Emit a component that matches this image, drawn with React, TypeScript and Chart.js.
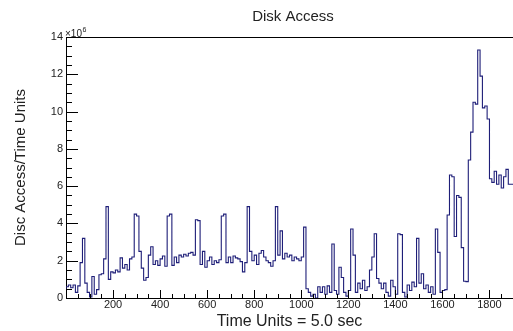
import React, { useEffect, useRef } from 'react';
import { Chart, registerables } from 'chart.js';

Chart.register(...registerables);

const chartTitle = 'Disk Access';
const xAxisTitle = 'Time Units = 5.0 sec';
const yAxisTitle = 'Disc Access/Time Units';
const yExponentBase = '\u00d710';
const yExponent = '6';

const binWidth = 10; // time units per histogram bin
const xMin = 0;
const xMax = 1900;
const yMin = 0;
const yMax = 14;

const xTickLabels = [200, 400, 600, 800, 1000, 1200, 1400, 1600, 1800];
const xMajorStep = 200;
const xMinorStep = 50;
const yTickLabels = [0, 2, 4, 6, 8, 10, 12, 14];
const yMajorStep = 2;
const yMinorStep = 0.5;

// Disk accesses per time unit, in units of 10^6, one value per bin
const diskAccess = [
  0.25, 0.6, 0.7, 0.55, 0.7, 0.3, 0.65, 1.9, 3.2, 0.8,
  0.3, 0.05, 1.15, 0.2, 0.45, 1.25, 1.3, 2.1, 4.9, 1.0,
  1.4, 1.35, 1.5, 1.4, 2.15, 1.6, 1.8, 1.5, 2.1, 2.2,
  4.5, 4.4, 2.5, 1.6, 0.95, 1.1, 2.3, 2.75, 1.8, 2.0,
  1.75, 2.1, 2.25, 1.7, 4.4, 4.5, 1.75, 2.2, 1.9, 2.3,
  2.2, 2.35, 2.25, 2.4, 2.45, 2.3, 4.2, 4.15, 1.8, 2.5,
  1.65, 2.0, 2.2, 1.8, 2.0, 1.9, 2.05, 4.4, 4.5, 1.9,
  2.2, 1.9, 2.25, 2.15, 2.1, 1.95, 1.4, 1.9, 4.9, 2.5,
  2.0, 2.3, 1.8, 2.4, 2.55, 2.2, 2.0, 1.9, 1.7, 2.0,
  4.9, 2.3, 3.6, 2.1, 2.4, 2.2, 2.3, 2.0, 2.2, 2.1,
  2.0, 2.2, 3.8, 0.5, 0.3, 0.1, 0.2, 0.0, 0.6, 0.3,
  0.6, 0.2, 0.65, 0.3, 2.9, 0.4, 0.2, 1.65, 1.1, 0.3,
  0.1, 0.4, 3.7, 2.3, 0.3, 0.8, 0.5, 0.95, 0.4, 0.6,
  1.5, 2.2, 3.45, 1.05, 0.8, 0.5, 0.8, 0.3, 0.1, 0.95,
  0.6, 0.2, 3.45, 3.4, 0.3, 0.05, 0.7, 0.4, 0.85, 0.6,
  3.2, 0.8, 1.3, 0.5, 0.7, 0.3, 0.6, 0.2, 3.7, 2.45,
  0.3, 0.4, 0.45, 4.45, 6.6, 6.5, 3.3, 5.5, 5.4, 2.7,
  0.9, 0.88, 7.4, 8.9, 10.5, 10.4, 13.3, 11.9, 10.2, 10.3,
  9.6, 6.4, 6.2, 6.8, 6.1, 6.6, 5.9, 6.5, 6.9, 6.1,
];

const FONT = "'Liberation Sans', Arial, Helvetica, sans-serif";
const TEXT = '#222222';
const LINE = '#1e1e78';

const framePlugin = {
  id: 'rootFrame',
  afterDatasetsDraw(chart: any) {
    const { ctx, chartArea, scales } = chart;
    const { left, right, top, bottom } = chartArea;
    const x = scales.x;
    const y = scales.y;
    ctx.save();
    ctx.strokeStyle = '#000';
    ctx.lineWidth = 1;
    ctx.beginPath();
    ctx.moveTo(left, Math.round(top) + 0.5);
    ctx.lineTo(right, Math.round(top) + 0.5);
    for (let v = xMin; v <= xMax; v += xMinorStep) {
      const px = Math.round(x.getPixelForValue(v)) + 0.5;
      const len = v % xMajorStep === 0 ? 8 : 4;
      ctx.moveTo(px, bottom);
      ctx.lineTo(px, bottom - len);
    }
    for (let v = yMin; v <= yMax + 1e-9; v += yMinorStep) {
      const py = Math.round(y.getPixelForValue(v)) + 0.5;
      const len = Math.abs(v % yMajorStep) < 1e-9 ? 12 : 6;
      ctx.moveTo(left, py);
      ctx.lineTo(left + len, py);
    }
    ctx.stroke();

    ctx.fillStyle = TEXT;
    ctx.textAlign = 'center';
    ctx.textBaseline = 'alphabetic';
    ctx.font = `15px ${FONT}`;
    ctx.fillText(chartTitle, 293, 21);

    ctx.textAlign = 'left';
    ctx.font = `10px ${FONT}`;
    ctx.fillText(yExponentBase, left - 1, top - 0.5);
    const w = ctx.measureText(yExponentBase).width;
    ctx.font = `7px ${FONT}`;
    ctx.fillText(yExponent, left - 1 + w + 0.5, top - 5);
    ctx.restore();
  },
};

export default function App() {
  const canvasRef = useRef<HTMLCanvasElement | null>(null);

  useEffect(() => {
    const canvas = canvasRef.current;
    if (!canvas) return;
    const points = diskAccess.map((v, i) => ({ x: xMin + i * binWidth, y: v }));
    points.push({ x: xMin + diskAccess.length * binWidth, y: diskAccess[diskAccess.length - 1] });

    const chart = new Chart(canvas, {
      type: 'line',
      data: {
        datasets: [
          {
            label: chartTitle,
            data: points,
            stepped: 'after',
            borderColor: LINE,
            borderWidth: 1.1,
            pointRadius: 0,
            fill: false,
            tension: 0,
          },
        ],
      },
      options: {
        responsive: false,
        animation: false,
        devicePixelRatio: 1,
        layout: { padding: { top: 37, left: 0, right: 0, bottom: 0 } },
        plugins: {
          legend: { display: false },
          tooltip: { enabled: false },
          title: { display: false },
        },
        scales: {
          x: {
            type: 'linear',
            min: xMin,
            max: xMax,
            grid: { display: false, drawTicks: false },
            border: { display: true, color: '#000', width: 1 },
            afterBuildTicks: (scale: any) => {
              scale.ticks = xTickLabels.map((v) => ({ value: v }));
            },
            afterFit: (scale: any) => {
              scale.height = 33;
            },
            ticks: {
              autoSkip: false,
              maxRotation: 0,
              padding: 0,
              color: TEXT,
              font: { family: FONT, size: 11 },
              callback: (v: any) => String(v),
            },
            title: {
              display: true,
              text: xAxisTitle,
              color: TEXT,
              font: { family: FONT, size: 16 },
              padding: { top: 0, bottom: 0 },
            },
          },
          y: {
            type: 'linear',
            min: yMin,
            max: yMax,
            grid: { display: false, drawTicks: false },
            border: { display: true, color: '#000', width: 1 },
            afterBuildTicks: (scale: any) => {
              scale.ticks = yTickLabels.map((v) => ({ value: v }));
            },
            afterFit: (scale: any) => {
              scale.width = 66;
            },
            ticks: {
              autoSkip: false,
              padding: 3,
              color: TEXT,
              font: { family: FONT, size: 11 },
              callback: (v: any) => String(v),
            },
            title: {
              display: true,
              text: yAxisTitle,
              color: TEXT,
              font: { family: FONT, size: 15 },
              padding: { top: 12, bottom: 0 },
            },
          },
        },
      },
      plugins: [framePlugin],
    });
    return () => chart.destroy();
  }, []);

  return (
    <div style={{ position: 'fixed', left: 0, top: 0, width: 513, height: 331, background: '#fff' }}>
      <canvas ref={canvasRef} width={513} height={331} />
    </div>
  );
}
